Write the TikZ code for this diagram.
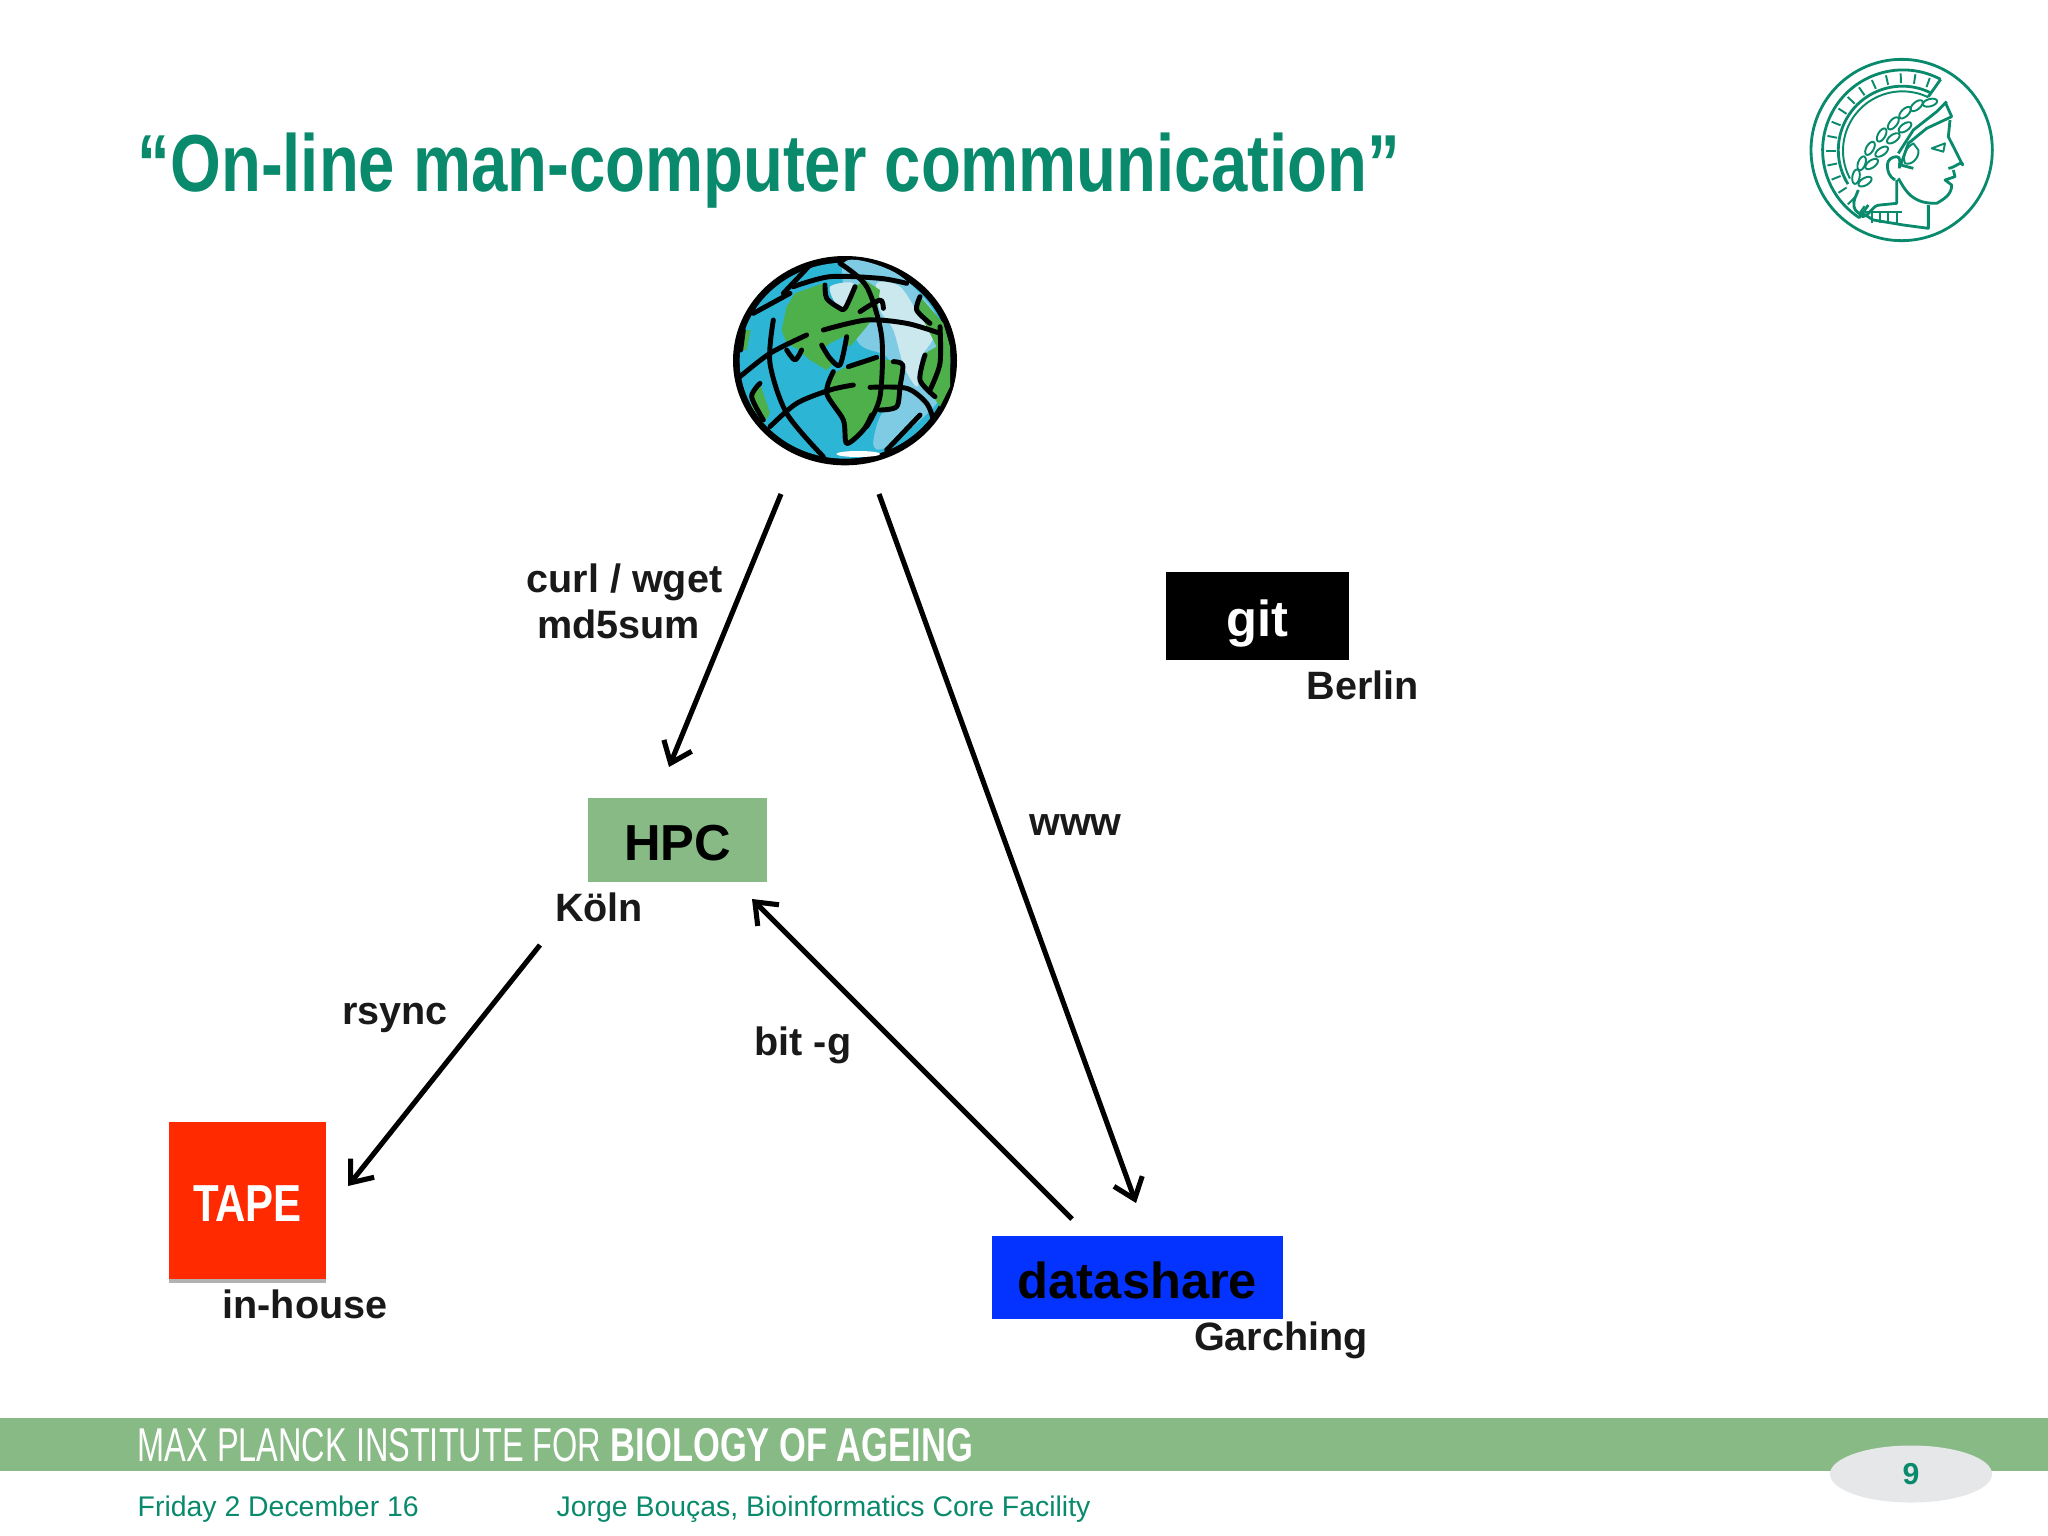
\documentclass[tikz,border=0pt]{standalone}
\usepackage{fontspec}
\setmainfont{Liberation Sans}
\newfontfamily\narrowfont[FakeStretch=0.807]{Liberation Sans}
\newfontfamily\bandfont[FakeStretch=0.684]{Liberation Sans}
\newfontfamily\bandboldfont[FakeStretch=0.727]{Liberation Sans Bold}
\usetikzlibrary{arrows.meta, shapes.geometric, shadows, calc}
\definecolor{mpgteal}{HTML}{0A8A6C}
\definecolor{mpgband}{HTML}{87BA84}
\definecolor{tapered}{HTML}{FF2A00}
\definecolor{shareblue}{HTML}{0433FF}
\definecolor{pagegray}{HTML}{E6E7E8}
\definecolor{oceanblue}{HTML}{2DB5D6}
\definecolor{lightocean}{HTML}{7FCBE3}
\definecolor{paleocean}{HTML}{CBE8EF}
\definecolor{landgreen}{HTML}{4DB04A}
\newcommand{\placelabel}[1]{\fontsize{11.25}{12.8}\selectfont\bfseries #1}
\newcommand{\boxlabel}[1]{\fontsize{14.4}{16}\selectfont\bfseries #1}
\newcommand{\globecurve}[1]{\draw [globeline] plot [smooth] coordinates {#1};}
\tikzset{
	box/.style = {rectangle, inner sep = 0pt, text = black, text height = 0.41cm, text depth = 0pt},
	place/.style = {anchor = base, inner sep = 0pt, text = black!90},
	foot/.style = {anchor = base west, inner sep = 0pt, text = mpgteal, font = \fontsize{8.08}{10}\selectfont},
	link/.style = {line width = 1.45pt, -{Straight Barb[length = 1.9mm, width = 3mm, line width = 1.45pt]}},
	globeline/.style = {line width = 1.4pt, black, line cap = round, line join = round},
	logoline/.style = {line width = 0.55pt, mpgteal, line join = round},
	land/.style = {fill = landgreen}
}
\begin{document}
\begin{tikzpicture}[x = 0.01cm, y = -0.01cm]
	\useasboundingbox (0, 0) rectangle (2048, 1536);

	\node (title) at (137, 191) [anchor = base west, inner sep = 0pt, text = mpgteal] {\narrowfont\fontsize{23}{27}\selectfont\bfseries “On-line man-computer communication”};

	\fill [mpgband] (0, 1418) rectangle (2048, 1471);
	\node (instname) at (137, 1461) [anchor = base west, inner sep = 0pt, text = white] {\bandfont\fontsize{13.5}{16}\selectfont MAX PLANCK INSTITUTE FOR};
	\node (instfield) at (610, 1461) [anchor = base west, inner sep = 0pt, text = white] {\bandboldfont\fontsize{13.5}{16}\selectfont BIOLOGY OF AGEING};
	\node (date) at (137, 1516) [foot] {Friday 2 December 16};
	\node (speaker) at (556, 1516) [foot] {Jorge Bouças, Bioinformatics Core Facility};
	\node (pagenum) at (1911, 1474) [ellipse, fill = pagegray, minimum width = 1.62cm, minimum height = 0.57cm, inner sep = 0pt, text = mpgteal, font = \fontsize{8.6}{10}\selectfont\bfseries] {9};

	% boxes
	\node (git) at (1257.5, 616) [box, fill = black, text = white, minimum width = 1.83cm, minimum height = 0.88cm] {\boxlabel{git}};
	\node (HPC) at (677.5, 840) [box, fill = mpgband, minimum width = 1.79cm, minimum height = 0.84cm] {\boxlabel{HPC}};
	\node (TAPE) at (247.5, 1200.5) [box, fill = tapered, text = white, minimum width = 1.57cm, minimum height = 1.57cm, drop shadow = {shadow xshift = 0pt, shadow yshift = -1pt, opacity = 0.3, fill = black}] {\narrowfont\fontsize{14.8}{16}\selectfont\bfseries TAPE};
	\node (datashare) at (1137.5, 1277.5) [box, fill = shareblue, minimum width = 2.91cm, minimum height = 0.83cm] {\boxlabel{datashare}};

	\node (curl) at (624.5, 592) [place] {\placelabel{curl / wget}};
	\node (md5) at (618.5, 638) [place] {\placelabel{md5sum}};
	\node (berlin) at (1363, 699) [place] {\placelabel{Berlin}};
	\node (www) at (1075.5, 835) [place] {\placelabel{www}};
	\node (koeln) at (599, 921) [place] {\placelabel{Köln}};
	\node (rsync) at (395, 1024) [place] {\placelabel{rsync}};
	\node (bitg) at (803, 1055) [place] {\placelabel{bit -g}};
	\node (inhouse) at (305, 1318) [place] {\placelabel{in-house}};
	\node (garching) at (1281, 1350) [place] {\placelabel{Garching}};

	\coordinate (earthA) at (781, 494);
	\coordinate (earthB) at (879, 494);
	\coordinate (intoHPC) at (669, 767);
	\coordinate (intoShare) at (1136, 1203);
	\coordinate (outShare) at (1072, 1219);
	\coordinate (backHPC) at (752, 899);
	\coordinate (outHPC) at (540, 945);
	\coordinate (intoTape) at (348, 1186);

	\foreach \from/\to in {earthA/intoHPC, earthB/intoShare, outShare/backHPC, outHPC/intoTape}
		\draw [link] (\from) -- (\to);

	% globe, in zoomed pixels
	\begin{scope}[shift = {(680, 230)}, x = 0.01cm/3, y = -0.01cm/3]
		\fill [black] (495, 392) ellipse [x radius = 336, y radius = 314];
		\fill [oceanblue] (495, 392) ellipse [x radius = 316, y radius = 294];
		\fill [lightocean] plot [smooth cycle] coordinates {(490, 100) (640, 125) (760, 240) (800, 390) (770, 520) (620, 650) (580, 645) (600, 560) (660, 480) (620, 380) (530, 330)};
		\fill [paleocean] plot [smooth cycle] coordinates {(590, 160) (660, 170) (720, 260) (760, 320) (722, 385) (712, 470) (672, 410) (640, 300) (600, 240)};
		\fill [paleocean] plot [smooth cycle] coordinates {(450, 170) (520, 160) (500, 230) (470, 225)};
		\fill [white] (535, 672) ellipse [x radius = 66, y radius = 9];
		\fill [land] (345, 190) -- (435, 158) -- (435, 205) -- (470, 235) -- (495, 235) -- (525, 170) -- (555, 150) -- (600, 180) -- (590, 250) -- (560, 290) -- (510, 350) -- (490, 320) -- (450, 340) -- (425, 360) -- (460, 400) -- (440, 420) -- (390, 390) -- (350, 355) -- (320, 340) -- (305, 300) -- (320, 230) -- cycle;
		\fill [land] (500, 410) -- (590, 385) -- (660, 395) -- (660, 470) -- (650, 530) -- (600, 540) -- (570, 570) -- (550, 600) -- (500, 640) -- (490, 570) -- (440, 490) -- (460, 430) -- cycle;
		\fill [land] (720, 200) -- (790, 280) -- (810, 350) -- (810, 470) -- (780, 530) -- (760, 500) -- (715, 450) -- (735, 370) -- (770, 350) -- (730, 270) -- (705, 240) -- cycle;
		\fill [land] (190, 300) -- (212, 300) -- (200, 360) -- (180, 360) -- cycle;
		\fill [land] (215, 500) -- (240, 460) -- (270, 550) -- (250, 580) -- (215, 530) -- cycle;
		\globecurve{(280, 270) (270, 400) (320, 550) (430, 680)}
		\globecurve{(480, 100) (560, 170) (605, 320) (600, 500) (560, 590)}
		\globecurve{(340, 170) (450, 140) (600, 145) (680, 160)}
		\globecurve{(430, 300) (560, 270) (680, 280) (780, 310)}
		\globecurve{(180, 440) (270, 370) (380, 315)}
		\globecurve{(270, 590) (350, 520) (450, 480) (520, 465)}
		\globecurve{(570, 472) (680, 475) (740, 520) (760, 570)}
		\globecurve{(220, 250) (330, 190)}
		\globecurve{(310, 190) (390, 105)}
		\globecurve{(780, 290) (780, 400) (750, 480)}
		\globecurve{(620, 660) (720, 555)}
		\globecurve{(435, 165) (440, 205) (475, 232) (495, 235) (525, 170)}
		\globecurve{(540, 245) (600, 210) (610, 235)}
		\globecurve{(320, 360) (345, 390) (365, 360)}
		\globecurve{(425, 345) (450, 385) (480, 405) (500, 320)}
		\globecurve{(505, 410) (590, 382)}
		\globecurve{(640, 395) (668, 405) (660, 470) (650, 530) (600, 540)}
		\globecurve{(460, 425) (440, 490) (490, 570) (500, 640) (550, 600) (575, 555)}
		\globecurve{(720, 200) (710, 240) (750, 280)}
		\globecurve{(735, 375) (720, 450) (765, 500)}
		\globecurve{(190, 300) (182, 360)}
		\globecurve{(240, 460) (215, 500) (250, 570)}
	\end{scope}

	% institute logo, in zoomed pixels
	\begin{scope}[shift = {(1780, 40)}, x = 0.01cm/3, y = -0.01cm/3]
		\draw [logoline, line width = 0.8pt] (365, 330) circle [radius = 272];
		\draw [logoline, line width = 0.8pt] (482, 118) arc [start angle = -62, end angle = -237, radius = 241] -- (265, 495);
		\draw [logoline, line width = 0.8pt] (482, 118) -- (445, 170);
		\draw [logoline, line width = 0.8pt] (451, 158) arc [start angle = -64, end angle = -212, radius = 192];
		\draw [logoline] (445, 172) arc [start angle = -64, end angle = -208, radius = 178];
		\foreach \ang in {70, 81, ..., 235}
			\draw [logoline] ($(370, 332) + (-\ang : 203)$) -- ($(370, 332) + (-\ang : 232)$);
		\foreach \leafx/\leafy/\leafang in {228/410/80, 245/370/70, 270/325/60, 305/285/60, 340/250/50, 375/218/45, 410/197/40, 450/188/15, 255/425/30, 275/372/35, 305/335/35, 340/295/35, 375/262/35}
			\draw [logoline, rotate around = {\leafang : (\leafx, \leafy)}] (\leafx, \leafy) ellipse [x radius = 22, y radius = 11];
		\draw [logoline, line width = 0.8pt] (235, 450) to [out = 250, in = 100] (222, 500) to [out = -80, in = 130] (248, 530) to [out = 10, in = 180] (300, 495) -- (350, 490) -- (350, 420);
		\draw [logoline, line width = 0.8pt] (500, 185) -- (470, 215) -- (400, 270) -- (355, 340);
		\draw [logoline, line width = 0.8pt] (495, 185) -- (515, 230) -- (440, 265) -- (385, 310) -- (362, 375) -- (400, 385);
		\draw [logoline, line width = 0.8pt] (510, 240) -- (505, 290) -- (548, 375) to [out = 90, in = 0] (505, 385);
		\draw [logoline, line width = 0.8pt] (520, 390) -- (525, 410) -- (495, 420) -- (515, 435) to [out = -90, in = 30] (470, 490) to [out = 180, in = -40] (390, 465) to [out = 135, in = -60] (355, 415);
		\draw [logoline] (455, 325) -- (495, 310) -- (490, 335) -- cycle;
		\draw [logoline, line width = 0.8pt] (345, 420) to [out = 150, in = -90] (322, 375) to [out = 90, in = 180] (350, 350) to [out = 0, in = 90] (358, 385);
		\draw [logoline] (400, 310) to [out = 210, in = 110] (375, 370) to [out = -20, in = -80] (415, 330) -- cycle;
		\draw [logoline, line width = 0.8pt] (445, 495) -- (445, 565) -- (370, 555) -- (280, 540) -- (248, 520);
		\draw [logoline] (365, 515) -- (255, 515);
		\foreach \foldx in {275, 300, 325, 350}
			\draw [logoline] (\foldx, 515) -- (\foldx, 548);
	\end{scope}
\end{tikzpicture}
\end{document}
